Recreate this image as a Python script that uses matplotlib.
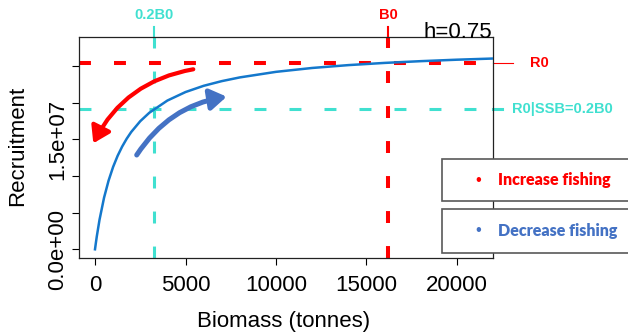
import matplotlib
matplotlib.use('Agg')
import matplotlib.pyplot as plt
from matplotlib.patches import FancyArrowPatch, Rectangle

plt.rcParams['font.family'] = ['Liberation Sans', 'DejaVu Sans']
plt.rcParams['lines.scale_dashes'] = False

# stock-recruitment curve
biomass = [0, 50, 100, 250, 500, 750, 1000, 1250, 1500, 1750, 2000, 2500, 3000,
           4000, 5000, 6000, 7000, 8000, 10000, 12000, 14000, 16000, 18000,
           20000, 22000]
recruitment = [0, 0.91e6, 1.77e6, 4.04e6, 7.05e6, 9.38e6, 1.125e7, 1.277e7,
               1.403e7, 1.510e7, 1.602e7, 1.750e7, 1.865e7, 2.032e7, 2.148e7,
               2.233e7, 2.297e7, 2.348e7, 2.424e7, 2.477e7, 2.516e7, 2.546e7,
               2.570e7, 2.590e7, 2.606e7]

B0 = 16200
R0 = 2.549e7
h = 0.75

xticks = [0, 5000, 10000, 15000, 20000]
yticks = [0, 5e6, 1e7, 1.5e7, 2e7, 2.5e7]
ytick_labels = ['0.0e+00', '', '', '1.5e+07', '', '']

# arrows (start, end) in data units
red_arrow = ((5430, 2.459e7), (-94, 1.448e7))
blue_arrow = ((2304, 1.288e7), (7276, 2.085e7))

RED = '#FF0000'
CYAN = '#40E0D0'
BLUE = '#4472C4'
CURVE = '#1478CC'

fig = plt.figure(figsize=(6.28, 3.36), dpi=100)
ax = fig.add_axes([79/628, 78/336, 414/628, 221/336])

ax.axhline(R0, color=RED, lw=2.9, dashes=(8.6, 16.6), zorder=2)
ax.axhline(h*R0, color=CYAN, lw=2.2, dashes=(8.6, 16.6), zorder=2)
ax.axvline(B0, color=RED, lw=2.9, dashes=(8.6, 16.6), zorder=2)
ax.axvline(0.2*B0, color=CYAN, lw=2.2, dashes=(8.6, 16.6), zorder=2)
ax.plot(biomass, recruitment, color=CURVE, lw=1.8, zorder=3)

ax.set_xlim(-884, 21989)
ax.set_ylim(-1.19e6, 2.9e7)
ax.set_xticks(xticks)
ax.set_xticklabels([str(v) for v in xticks])
ax.set_yticks(yticks)
ax.set_yticklabels(ytick_labels, rotation=90, va='center')
ax.tick_params(length=5, width=0.8, labelsize=16, pad=3)
ax.tick_params(axis='x', pad=7)
for s in ax.spines.values():
    s.set_linewidth(0.9)
    s.set_color('#222222')

# marks outside the box for B0 / 0.2B0 and R0 lines
xt = ax.get_xaxis_transform()
yt = ax.get_yaxis_transform()
ax.plot([0.2*B0, 0.2*B0], [1, 1.045], transform=xt, color=CYAN, lw=1.5, clip_on=False)
ax.plot([B0, B0], [1, 1.045], transform=xt, color=RED, lw=1.5, clip_on=False)
ax.text(0.2*B0, 1.10, '0.2B0', transform=xt, color=CYAN, fontsize=10.5,
        fontweight='bold', ha='center', va='center')
ax.text(B0, 1.10, 'B0', transform=xt, color=RED, fontsize=10.5,
        fontweight='bold', ha='center', va='center')
ax.plot([1, 1.048], [R0, R0], transform=yt, color=RED, lw=0.8, clip_on=False)
ax.plot([1, 1.022], [h*R0, h*R0], transform=yt, color=CYAN, lw=2.2, clip_on=False)
ax.text(1.089, R0, 'R0', transform=yt, color=RED, fontsize=10.5,
        fontweight='bold', ha='left', va='center')
ax.text(1.046, h*R0, 'R0|SSB=0.2B0', transform=yt, color=CYAN, fontsize=10.5,
        fontweight='bold', ha='left', va='center')

ax.text(0.998, 0.995, 'h=0.75', transform=ax.transAxes, fontsize=16,
        ha='right', va='baseline')

for (p0, p1), col, rad, lw in [(red_arrow, RED, 0.25, 3.0), (blue_arrow, BLUE, -0.22, 3.6)]:
    arr = FancyArrowPatch(p0, p1, connectionstyle='arc3,rad=%s' % rad,
                          arrowstyle='-|>,head_length=0.7,head_width=0.45',
                          mutation_scale=14, lw=lw, color=col,
                          shrinkA=0, shrinkB=0, zorder=4)
    ax.add_patch(arr)

fig.text(284/628, 1 - 322/336, 'Biomass (tonnes)', fontsize=16, ha='center', va='center')
fig.text(18/628, 1 - 146/336, 'Recruitment', fontsize=16, rotation=90,
         ha='center', va='center')

# legend boxes
for y0, y1, col, label in [(159, 201, RED, 'Increase fishing'),
                           (209, 253, BLUE, 'Decrease fishing')]:
    rect = Rectangle((442/628, 1 - y1/336), 0.32, (y1 - y0)/336,
                     transform=fig.transFigure, facecolor='white',
                     edgecolor='#595959', lw=1.2, zorder=5)
    fig.add_artist(rect)
    yc = 1 - (y0 + y1)/2/336
    fig.text(478/628, yc, '\u2022', color=col, fontsize=12, ha='center',
             va='center', zorder=6)
    fig.text(498/628, yc, label, color=col, fontsize=11.5, fontweight='heavy',
             family='Lato', ha='left', va='center', zorder=6)

fig.savefig('out.png', dpi=100)
